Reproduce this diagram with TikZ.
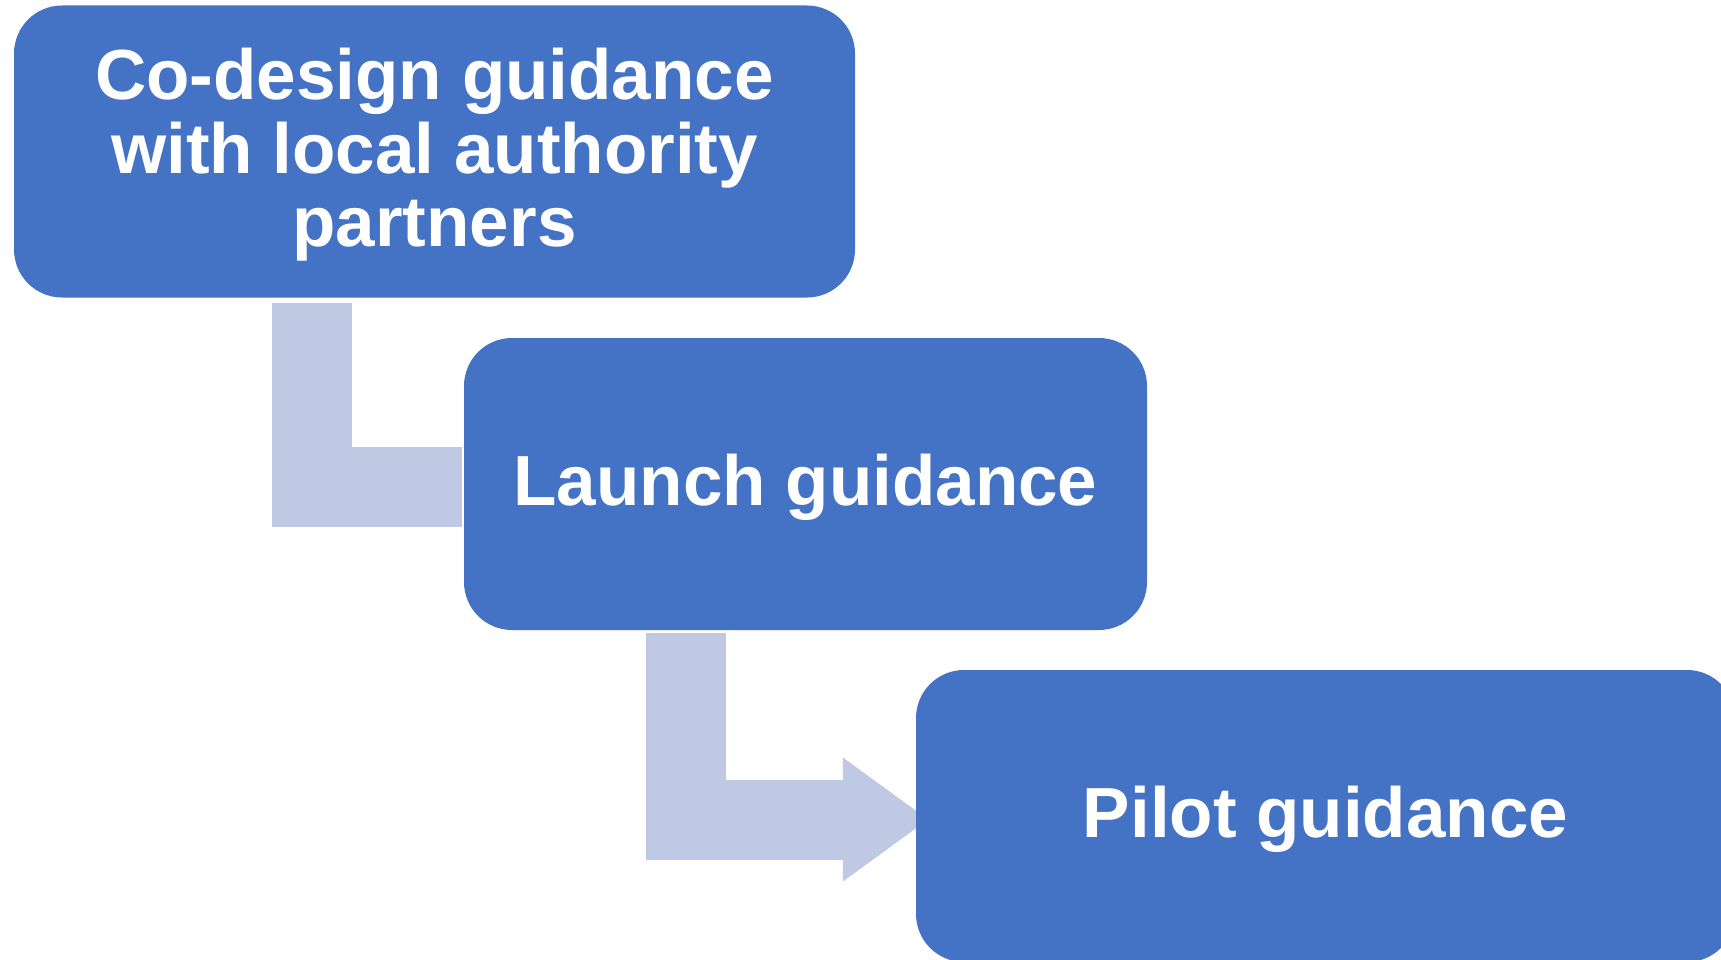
\documentclass[tikz,border=0pt]{standalone}
\usepackage{fontspec}
\setmainfont{Liberation Sans}
\usepackage{xcolor}
\definecolor{boxblue}{HTML}{4472C4}
\definecolor{arrowblue}{HTML}{C0C9E4}
\tikzset{stagebox/.style={fill=boxblue,rounded corners=48pt,inner sep=0pt,
   minimum height=292pt,text=white,align=center,text depth=8pt,
   font=\bfseries\fontsize{71}{73.5}\selectfont},
 bentarrow/.style={draw=arrowblue,line width=80pt,line cap=butt,line join=miter},
 }
\usetikzlibrary{backgrounds}
\usetikzlibrary{calc}
\usetikzlibrary{arrows.meta}

\begin{document}
\begin{tikzpicture}[x=1pt,y=-1pt]
        \useasboundingbox (0,0) rectangle (1721,960);
        \clip (0,0) rectangle (1721,960);
        \node[stagebox,minimum width=841pt] (codesign) at (434.5,151.5) {Co-design guidance\\with local authority\\partners};
        \node[stagebox,minimum width=683pt] (launch) at (805.5,484) {Launch guidance};
        \node[stagebox,minimum width=819pt] (pilot) at (1325.5,816) {Pilot guidance};
        \begin{scope}[on background layer]
        \draw[bentarrow] ($(codesign.south)+(-122.5,5)$) |- ($(launch.west)+(-2,3)$);
        \draw[bentarrow,-{Triangle[length=86pt,width=118pt]}] ($(launch.south)+(-119.5,3)$) |- ($(pilot.west)+(13,3.5)$);
        \end{scope}
    \end{tikzpicture}
\end{document}
